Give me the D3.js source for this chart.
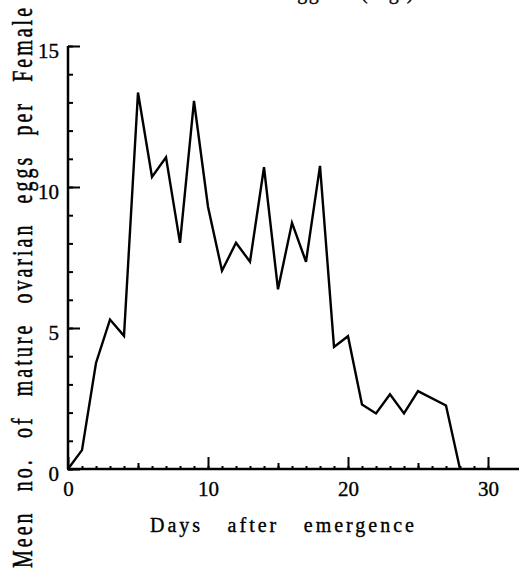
<!DOCTYPE html>
<html>
<head>
<meta charset="utf-8">
<script src="https://cdn.jsdelivr.net/npm/d3@7"></script>
<style>
    html, body { margin: 0; padding: 0; background: #fff; }
    svg { display: block; font-family: "Liberation Serif", "Times New Roman", serif; }
    svg text { stroke: #000; stroke-width: 0.35px; }
</style>
</head>
<body>
<div class="svg-wrap"><svg></svg></div>
<script>
var width = 519;
var height = 570;

// days after emergence and mean egg counts
var days = [0, 1, 2, 3, 4, 5, 6, 7, 8, 9, 10, 11, 12, 13, 14, 15, 16, 17, 18, 19, 20, 21, 22, 23, 24, 25, 27, 28];
var eggs = [0, 0.67, 3.76, 5.3, 4.72, 13.35, 10.36, 11.05, 8.02, 13.05, 9.3, 7.03, 8.02, 7.35, 10.7, 6.37, 8.73, 7.35, 10.75, 4.33, 4.71, 2.29, 1.97, 2.65, 1.97, 2.76, 2.25, 0];

var xTickLabels = [0, 10, 20, 30];
var yTickLabels = [0, 5, 10, 15];

var svg = d3.select(".svg-wrap > svg")
    .attr("width", width)
    .attr("height", height);

var x = d3.scaleLinear().domain([0, 30]).range([68, 488]);
var y = d3.scaleLinear().domain([0, 15]).range([469, 46]);

// title cut off at the top of the scan
svg.append("text")
    .attr("x", 232)
    .attr("y", -1)
    .attr("text-anchor", "middle")
    .attr("font-size", 20)
    .attr("letter-spacing", 1.5)
    .text("Mean number of ovarian eggs in (Fig.)");

// y axis: minor ticks every unit, major every 5
svg.append("g")
    .attr("transform", "translate(" + x(0) + ",0)")
    .call(d3.axisLeft(y).tickValues(d3.range(0, 16)).tickSize(-5).tickFormat(""))
    .call(cleanAxis);

svg.append("g")
    .attr("transform", "translate(" + x(0) + ",0)")
    .call(d3.axisLeft(y).tickValues(yTickLabels).tickSize(-12).tickPadding(9))
    .call(cleanAxis)
    .selectAll("text")
    .attr("dy", "0.55em");

// x axis: minor ticks every day, medium at 5s, major at 10s
svg.append("g")
    .attr("transform", "translate(0," + y(0) + ")")
    .call(d3.axisBottom(x).tickValues(d3.range(0, 31)).tickSize(-3).tickFormat(""))
    .call(cleanAxis);

svg.append("g")
    .attr("transform", "translate(0," + y(0) + ")")
    .call(d3.axisBottom(x).tickValues([5, 15, 25]).tickSize(-6).tickFormat(""))
    .call(cleanAxis);

svg.append("g")
    .attr("transform", "translate(0," + y(0) + ")")
    .call(d3.axisBottom(x).tickValues(xTickLabels).tickSize(-12).tickPadding(12))
    .call(cleanAxis);

// axis lines
svg.append("line")
    .attr("x1", x(0)).attr("x2", x(0))
    .attr("y1", y(15)).attr("y2", y(0))
    .attr("stroke", "#000")
    .attr("stroke-width", 2.5);

svg.append("line")
    .attr("x1", x(0) - 1).attr("x2", width)
    .attr("y1", y(0)).attr("y2", y(0))
    .attr("stroke", "#000")
    .attr("stroke-width", 2.5);

// data line
var line = d3.line()
    .x(function (d, i) { return x(days[i]); })
    .y(function (d) { return y(d); });

svg.append("path")
    .datum(eggs)
    .attr("fill", "none")
    .attr("stroke", "#000")
    .attr("stroke-width", 2.4)
    .attr("stroke-linejoin", "miter")
    .attr("d", line);

// x label
var xLabel = svg.append("text")
    .attr("x", 150)
    .attr("y", 532)
    .attr("font-size", 20)
    .attr("letter-spacing", 3)
    .text("Days after emergence");
fitWords(xLabel, 267, 2);

// y label, stretched across its column as in the scan
var yLabel = svg.append("text")
    .attr("transform", "translate(32,568) rotate(-90) scale(1,1.45)")
    .attr("font-size", 20)
    .attr("letter-spacing", 3)
    .text("Meen no. of mature ovarian eggs per Female");
fitWords(yLabel, 563, 7);

function cleanAxis(g) {
    g.select(".domain").remove();
    g.selectAll(".tick line")
        .attr("stroke", "#000")
        .attr("stroke-width", 2);
    g.selectAll(".tick text")
        .attr("fill", "#000")
        .attr("font-size", 21)
        .attr("font-family", "\"Liberation Serif\", \"Times New Roman\", serif");
}

function fitWords(text, target, gaps) {
    var len = text.node().getComputedTextLength();
    text.attr("word-spacing", Math.max(0, (target - len) / gaps));
}
</script>
</body>
</html>
